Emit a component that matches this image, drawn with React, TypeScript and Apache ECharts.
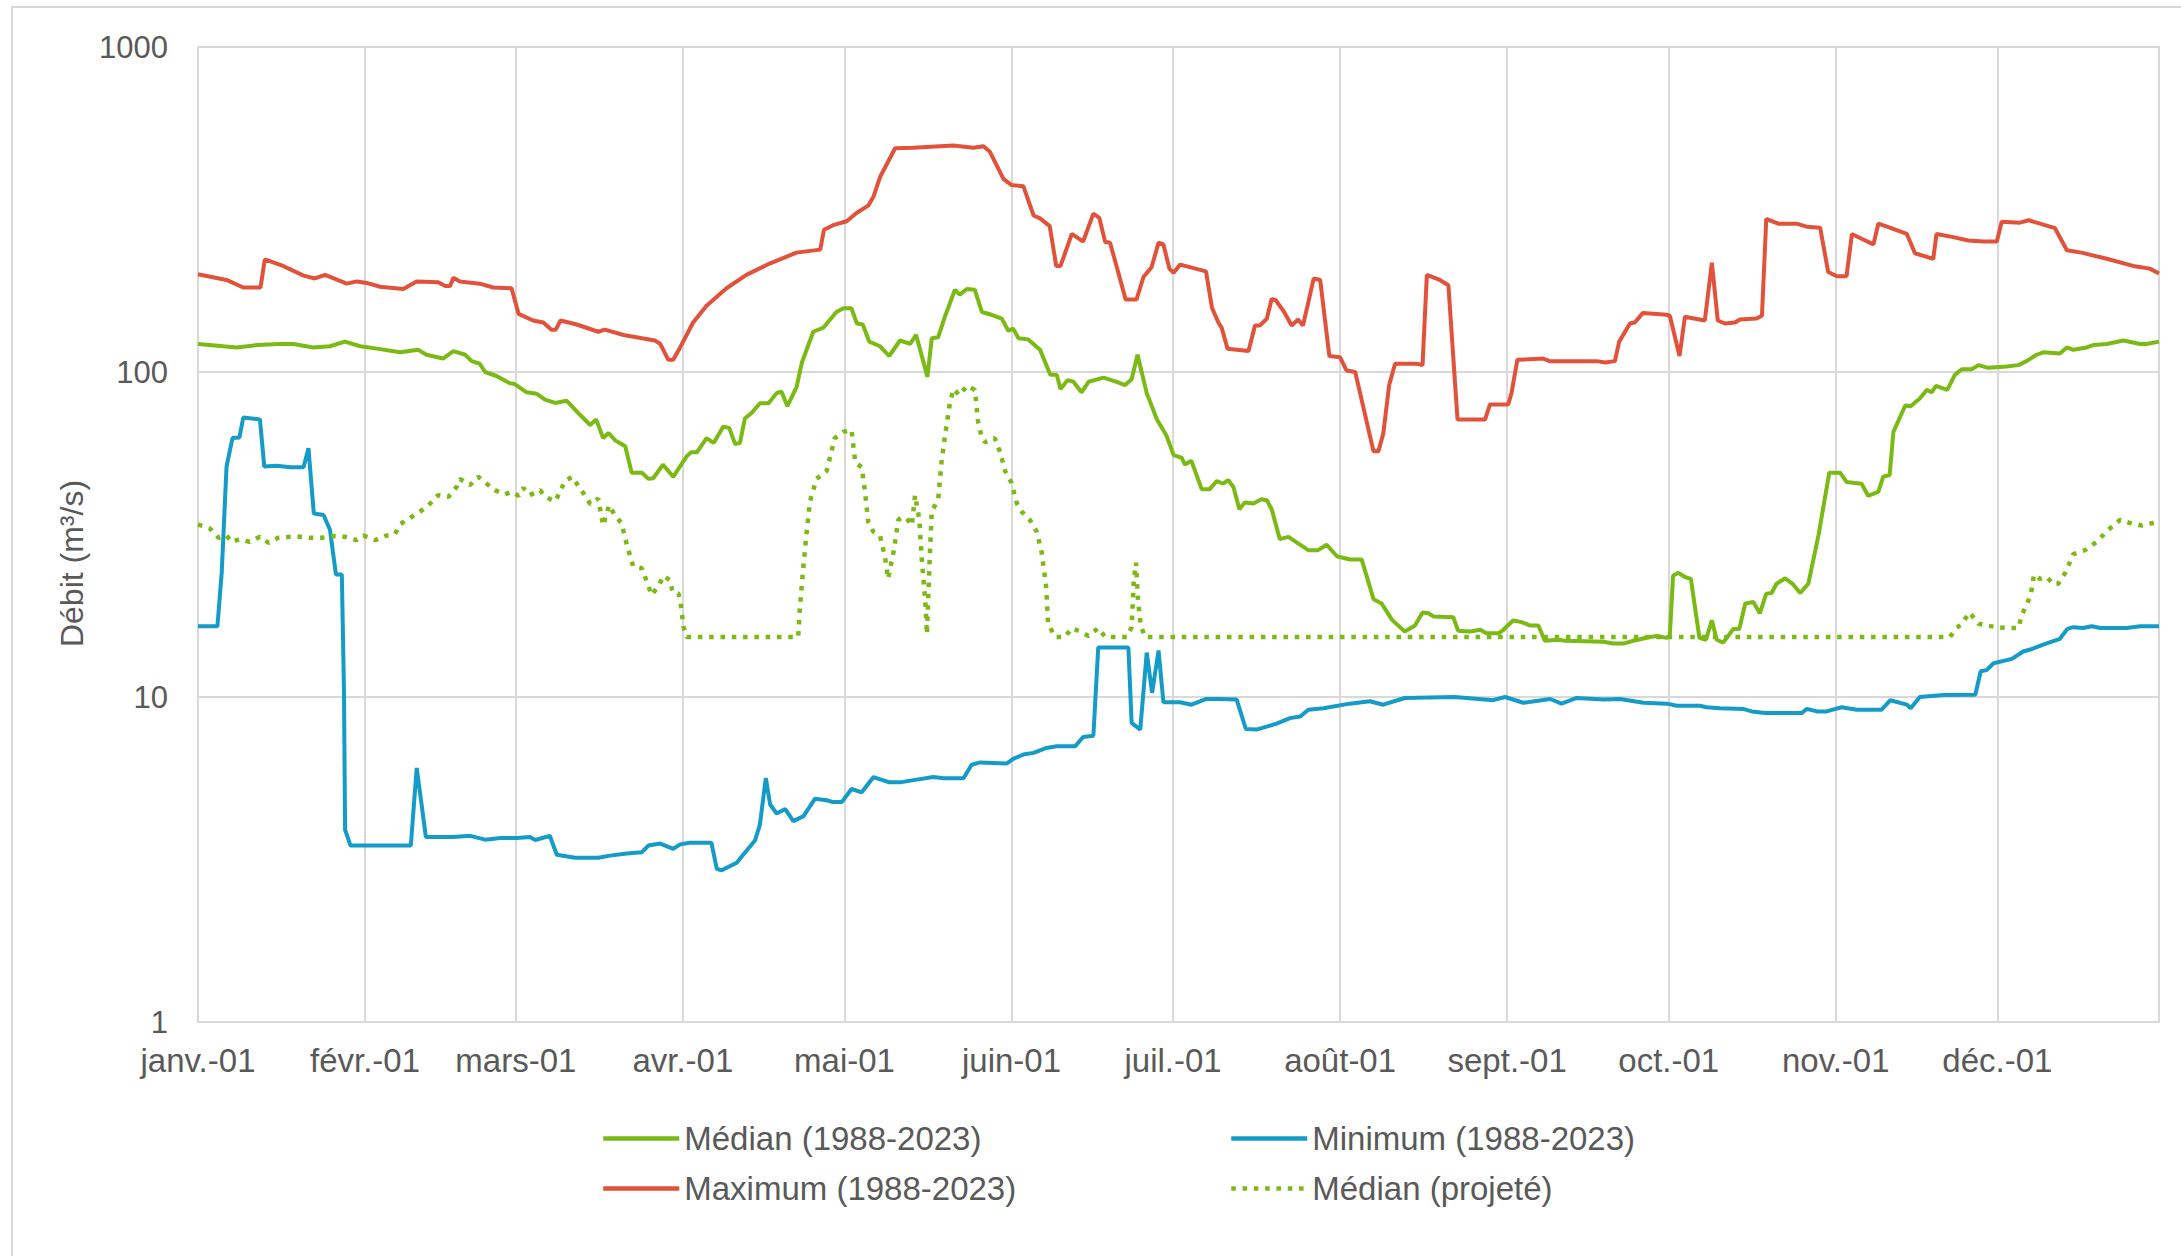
import React, { useEffect, useRef } from "react";
import * as echarts from "echarts";

// ---- Axis definitions ----
const monthLabels = ["janv.-01", "févr.-01", "mars-01", "avr.-01", "mai-01", "juin-01", "juil.-01", "août-01", "sept.-01", "oct.-01", "nov.-01", "déc.-01"];
const monthStartDays = [0, 31, 59, 90, 120, 151, 181, 212, 243, 273, 304, 334];
const dayCount = 365;
const yTickValues = [1, 10, 100, 1000];

// ---- Series: [day of year, débit m³/s] ----
const medianHistorical: [number, number][] = [
  [0,122],[4.7,120],[7.2,119],[10.9,121],[15.2,122],[17.7,122],[21.4,119],[24.5,120],[27.3,124],[30.1,120],[33.2,118],[37.5,115],[40.9,117],[42.4,113],[45.5,110],[47.4,116],[49.6,113],[50.8,108],[52.3,106],[53.3,100],[55.4,97.2],[57.9,92.3],[58.8,91.8],[61,86.6],[62.9,85.7],[64.4,82.2],[66.3,80.3],[68.4,81.6],[70.3,75.6],[72.8,68.7],[73.9,71.4],[74.5,67.3],[75.2,62.6],[76.2,64.9],[77.4,61.7],[79.3,59.1],[80.5,49],[82.4,49],[83.6,46.9],[84.5,47.1],[86.3,51.9],[88.2,47.6],[90.7,55],[91.5,56.6],[92.6,56.6],[94.4,62.6],[95.7,60.5],[97.5,67.9],[98.6,67.3],[99.7,60],[100.6,60.5],[101.5,71.9],[102.8,74.9],[104.3,80.1],[105.9,80.1],[107.4,86.1],[108.3,87.1],[109.4,78.5],[111.1,89.9],[112.1,107],[114.2,133],[116.1,137],[118.5,153],[119.8,157],[121.3,157],[122.3,141],[123.4,140],[124.6,124],[126.6,120],[128.3,112],[130.3,125],[132.2,122],[133.3,130],[135.4,96.6],[136.2,127],[137.4,128],[138.7,149],[140.5,179],[141.4,173],[142.7,180],[144.2,179],[145.5,153],[147.3,150],[149.2,146],[150.4,134],[151.3,136],[152.3,127],[154.1,126],[156.3,117],[158.2,98],[159.4,98],[160.1,88.6],[161.4,94.4],[162.5,93.3],[164,86.6],[165.3,93.3],[168.1,96.1],[170.5,93.3],[172.1,91.2],[173.3,95],[174.4,113],[176.1,86.1],[178,71.4],[179.8,63.5],[181.1,55.5],[182.6,54.4],[183.2,51.9],[184.4,53.3],[186.3,43.6],[187.8,43.6],[189.1,46.2],[190.3,45.3],[191.2,46.5],[192.2,44.3],[193.3,37.8],[194.3,39.7],[195.9,39.4],[197.4,40.6],[198.4,40.3],[199.3,37.8],[200.8,30.6],[202.4,31.1],[204.2,29.7],[206.1,28.3],[207.9,28.3],[209.5,29.4],[211.4,27.1],[213.8,26.5],[216,26.5],[218.2,20],[219.7,19.4],[221.6,17.3],[224,15.9],[225.9,16.6],[227.3,18.2],[228.4,18.1],[229.3,17.7],[233,17.6],[233.9,16],[236.1,15.9],[238,16.1],[239.1,15.7],[241.4,15.7],[242.3,16.1],[244.1,17.2],[245.7,17],[247.2,16.6],[248.8,16.6],[250,14.9],[252.5,15],[253.7,14.9],[260.9,14.8],[262.7,14.6],[264.6,14.6],[266.4,14.9],[269.5,15.3],[270.8,15.4],[272.6,15.2],[273.2,15.5],[273.8,23.6],[274.8,24.1],[276,23.4],[277.1,23.1],[278.7,15.2],[279.9,15],[281,17.2],[281.9,15],[283.1,14.7],[285,16.2],[286.1,16.2],[287.2,19.4],[288.7,19.6],[289.9,18.1],[291.1,20.8],[292.1,20.9],[293,22.3],[294.6,23.2],[296.1,22.2],[297.4,20.9],[298.9,22.3],[300.8,31.5],[302.8,49],[304.8,49],[306,45.9],[308.8,45.3],[310,41.6],[311.9,42.8],[312.8,47.6],[314,48.2],[314.7,65.4],[316.9,78.9],[317.9,78.5],[319.6,82.9],[320.9,88.1],[321.8,86.6],[322.6,90.7],[324.7,88.1],[326.1,98],[327.4,102],[329.2,102],[330.5,105],[332.3,103],[335.7,104],[337.9,105],[339.4,108],[341.3,113],[342.5,115],[345.6,114],[346.9,119],[348.1,117],[350.6,119],[351.8,121],[354.3,122],[357.4,125],[360.5,122],[361.7,122],[364,124]
];

const minimumHistorical: [number, number][] = [
  [0,16.5],[3.6,16.5],[4.4,24.1],[5.3,51.2],[6.4,62.6],[7.7,62.9],[8.4,72.4],[11.5,71.4],[12.3,51.2],[14.6,51.5],[17.1,50.9],[19.6,50.9],[20.5,58.3],[21.5,36.7],[23.3,36.3],[24.5,32.7],[25.6,23.8],[26.7,23.8],[27.1,10.3],[27.3,3.91],[28.3,3.49],[39.5,3.49],[40.6,6.05],[42.3,3.71],[47.4,3.71],[50.5,3.74],[53.3,3.64],[56.1,3.68],[59.2,3.68],[61.6,3.71],[62.6,3.63],[65.3,3.74],[66.6,3.27],[70,3.2],[74.3,3.2],[76.5,3.25],[79.6,3.3],[82.4,3.33],[83.6,3.49],[85.8,3.54],[88.2,3.41],[89.5,3.52],[91.3,3.56],[95.3,3.56],[96.3,2.96],[97.2,2.93],[100,3.09],[101.2,3.27],[103.4,3.62],[104.3,4.05],[105.4,5.63],[106.2,4.67],[107.4,4.38],[109,4.52],[110.5,4.15],[112.4,4.3],[114.5,4.86],[116.7,4.81],[117.9,4.75],[119.5,4.75],[121.3,5.21],[123.2,5.09],[125.4,5.67],[128.2,5.47],[130.6,5.47],[132.8,5.55],[136.5,5.67],[138.4,5.62],[142.1,5.62],[143.6,6.19],[145.2,6.29],[150.1,6.24],[151.3,6.45],[153.2,6.65],[155.1,6.73],[157.5,6.97],[159.4,7.05],[162.8,7.05],[164.3,7.53],[166.2,7.6],[167.1,14.2],[171.8,14.2],[172.7,14.2],[173.3,8.32],[174.9,7.94],[176.1,13.7],[177.1,10.3],[178.3,13.9],[179.2,9.63],[182.3,9.63],[184.4,9.47],[187.2,9.86],[189.7,9.86],[192.8,9.82],[194.5,7.97],[196.5,7.94],[200.2,8.28],[202.7,8.61],[204.6,8.71],[206.1,9.14],[208.9,9.24],[213.8,9.54],[217.5,9.7],[220,9.47],[224,9.93],[233.3,10],[240.4,9.78],[242.6,10],[246,9.6],[251,9.86],[253.1,9.54],[255.9,9.93],[260.9,9.82],[264,9.86],[268.3,9.6],[272.6,9.54],[274.5,9.4],[278.8,9.4],[280,9.3],[282.5,9.23],[286.8,9.19],[288.4,9.03],[290.9,8.93],[297.7,8.93],[298.6,9.19],[300.5,9.03],[302.3,9.03],[305.1,9.3],[307.9,9.14],[312.5,9.14],[314.1,9.77],[317.2,9.47],[317.9,9.24],[319.6,10],[324,10.14],[329.9,10.16],[330.9,12],[332,12.1],[333.3,12.7],[336.7,13.1],[338.8,13.8],[340.1,14],[342.5,14.5],[345.6,15.1],[347,16.2],[348.1,16.4],[349.9,16.3],[351.5,16.5],[353.1,16.3],[358,16.3],[360.5,16.5],[364,16.5]
];

const maximumHistorical: [number, number][] = [
  [0,200],[5.3,192],[8.4,182],[11.6,182],[12.4,222],[15.8,212],[19.6,198],[21.7,194],[23.6,199],[27.6,187],[29.5,190],[31.3,188],[33.8,183],[38.1,180],[40.6,190],[44.6,189],[45.9,184],[46.8,184],[47.4,195],[48.6,190],[52.3,187],[54.8,182],[58.2,181],[59.5,151],[62.2,144],[64.1,142],[65.6,135],[66.4,135],[67.3,144],[70.3,140],[74.3,133],[75.5,135],[79,130],[84.8,125],[85.8,122],[87.3,109],[88.2,109],[89.5,119],[91.9,142],[94.4,160],[98.1,181],[101.8,199],[106.2,216],[111.1,233],[115.5,238],[116.2,274],[117.9,283],[120.4,291],[122.3,309],[124.4,325],[125.4,347],[126.6,398],[129.4,488],[132.8,490],[140.2,498],[143.9,490],[145.8,495],[147,476],[149.5,393],[151,376],[153.2,373],[155.1,303],[156.3,297],[158.1,281],[159.3,212],[160.1,212],[162.2,266],[164.3,252],[166.2,307],[167.3,298],[168.4,251],[169.3,250],[172.2,167],[174.2,167],[175.5,196],[177,210],[178.3,250],[179.2,247],[180.3,208],[181.1,202],[182.3,214],[187.1,204],[188.2,158],[189.4,142],[190,137],[191.1,118],[195,116],[196.2,139],[197.1,139],[198.4,146],[199.3,168],[200.1,166],[201.5,154],[203,139],[204.2,145],[205.1,139],[206.1,164],[207.1,194],[208.3,192],[210,112],[212,111],[213.2,101],[214.8,100],[218.2,57],[219.1,57],[220,64.5],[221.1,91],[222.2,106],[226.2,106],[227.3,105],[228.1,199],[230.5,192],[232.1,185],[233.3,94],[233.8,71.4],[238.9,71.4],[239.8,79.4],[243.2,79.4],[243.8,86],[244.9,109],[249.7,110],[250.9,108],[259.6,108],[261.2,107],[263,108],[263.8,124],[265.8,141],[266.7,142],[268.2,152],[272.6,150],[273.2,149],[275,112],[276,148],[279.7,144],[281,217],[282.1,144],[283.4,141],[285.3,142],[286.2,145],[289.3,146],[290.3,149],[291.1,296],[293.3,286],[296.7,286],[298.6,280],[301.1,278],[302.6,203],[304.2,197],[306,197],[307,266],[308.8,257],[311,247],[311.9,286],[313.5,280],[317.2,266],[318.7,232],[322.1,223],[322.7,266],[325.8,260],[328.6,254],[331.4,252],[333.9,252],[334.8,290],[338.2,288],[339.8,293],[344.7,277],[346.9,237],[349.6,233],[354.3,223],[359.2,212],[362.3,208],[364,201]
];

const medianProjected: [number, number][] = [
  [0,34],[2.2,33],[3.8,30.9],[5.3,31.4],[6.2,30],[7.8,30.6],[9.6,30],[11.5,31.1],[13.1,29.8],[14.9,30.9],[17.1,31.1],[18.9,31.1],[20.8,30.9],[23,30.9],[25.1,31.3],[27.3,31.1],[29.4,30.4],[30.7,31.4],[32.9,30.4],[34.7,31.3],[36.6,31.8],[37.5,34],[39.4,35.6],[41.2,37.2],[42.8,38.9],[44.6,41.8],[46.5,41.3],[48,44.3],[48.6,46.9],[50.5,44.9],[52,47.6],[53.6,45.3],[55.1,43.3],[57,42],[58.2,42.8],[59.5,41.6],[60.4,44],[61.6,41.8],[63.5,43.3],[64.4,41.3],[66.3,40],[67.2,42.8],[68.1,46.2],[69.5,47.6],[70.6,44.6],[71.8,41.8],[72.8,39.2],[74.3,40.8],[75.2,33.7],[76.3,38.9],[77.4,36.2],[78.6,34.3],[79.6,29.4],[80.8,25.2],[82.4,24.9],[84.2,20.6],[85.5,22],[86.4,23.6],[87.6,22.9],[88.1,21],[89.2,20.8],[89.6,19.4],[90.1,16.5],[90.7,15.3],[111.4,15.3],[111.7,18.6],[112.2,23.4],[112.9,31.3],[113.6,40],[114.8,46.9],[116.7,49.7],[118.2,62.6],[119.8,65.4],[121.3,66.4],[122,52.7],[123.2,50.9],[123.8,43],[124.4,34.6],[125.4,32.2],[126.6,31.3],[127.5,27.1],[128.1,23.1],[129.1,27.9],[130,35.1],[130.6,35.6],[131.5,35.6],[132.5,33.7],[133.1,41.8],[133.9,35.1],[134.3,27.1],[135,19.7],[135.3,15.6],[135.8,26.3],[136.2,37.2],[137.4,40.6],[138,52.7],[138.7,64.5],[139.5,78.9],[140.2,88.6],[141.4,84.8],[142.7,90.7],[144.2,88.1],[144.8,70.3],[145.5,62.6],[146.1,60.8],[147.9,62.6],[148.9,56.6],[149.8,49.7],[151,45.6],[152,39.4],[152.9,37.2],[154.4,35.1],[155.7,32.2],[156.6,27.9],[157.4,22.1],[157.8,16.8],[159.1,15.3],[160.9,15.3],[162.2,16.3],[163.7,15.9],[165.3,15.4],[167.1,16.3],[168.4,15.3],[172.4,15.3],[173.3,16.4],[173.7,22.8],[174.1,25.9],[174.5,19.7],[175,16.6],[175.8,15.3],[325.2,15.3],[326.4,16.3],[327.4,16.8],[328.8,18.2],[330.5,16.8],[332,16.6],[333.9,16.4],[336,16.3],[337.9,16.3],[338.5,17.8],[339.4,19.2],[340.2,20.6],[340.8,23.8],[341.9,23.1],[343.2,23.4],[344.4,22.2],[345.3,22.3],[346.6,24.1],[348.1,27.5],[350.3,28.3],[352.4,30],[354.6,32.7],[356.8,35.1],[358.6,34.3],[360.8,33.7],[362.9,34.3],[364,34.6]
];

const seriesNames = ["Médian (1988-2023)", "Minimum (1988-2023)", "Maximum (1988-2023)", "Médian (projeté)"];

const GREEN = "#7BBA14";
const BLUE = "#149BC8";
const RED = "#E2523A";
const GRID = "#d9d9d9";
const TEXT = "#595959";
const FONT = "'Liberation Sans', Arial, sans-serif";

export default function App() {
  const ref = useRef<HTMLDivElement>(null);

  useEffect(() => {
    if (!ref.current) return;
    const chart = echarts.init(ref.current, null, { renderer: "svg" });
    const dayCategories = Array.from({ length: dayCount }, (_, i) => String(i));
    const isMonthStart = (index: number) => monthStartDays.includes(index);

    const legendBase = {
      orient: "vertical",
      top: 1117,
      itemWidth: 76,
      itemHeight: 32,
      itemGap: 17,
      itemStyle: { opacity: 0 },
      lineStyle: { width: 4.5 },
      textStyle: { fontSize: 33, color: TEXT, fontFamily: FONT },
    };

    chart.setOption({
      animation: false,
      backgroundColor: "#ffffff",
      textStyle: { fontFamily: FONT },
      graphic: [
        {
          type: "rect",
          silent: true,
          z: -10,
          shape: { x: 12, y: 7, width: 2200, height: 1300 },
          style: { fill: "none", stroke: GRID, lineWidth: 2 },
        },
      ],
      grid: {
        left: 198,
        top: 47,
        right: 22,
        bottom: 234,
        show: true,
        borderColor: GRID,
        borderWidth: 2,
        backgroundColor: "transparent",
        outerBoundsMode: "none",
      },
      legend: [
        { ...legendBase, left: 596, data: [seriesNames[0], seriesNames[2]] },
        { ...legendBase, left: 1224, data: [seriesNames[1], seriesNames[3]] },
      ],
      xAxis: [
        {
          type: "category",
          data: dayCategories,
          boundaryGap: false,
          axisLine: { show: false },
          axisTick: { show: false },
          axisLabel: {
            interval: (index: number) => isMonthStart(index),
            formatter: (value: string) => {
              const k = monthStartDays.indexOf(Number(value));
              return k >= 0 ? monthLabels[k] : "";
            },
            fontSize: 33,
            color: TEXT,
            fontFamily: FONT,
            margin: 22,
          },
          splitLine: {
            show: true,
            interval: (index: number) => isMonthStart(index),
            lineStyle: { color: GRID, width: 2 },
          },
        },
        {
          type: "value",
          min: 0,
          max: dayCount - 1,
          show: false,
          splitLine: { show: false },
        },
      ],
      yAxis: {
        type: "log",
        logBase: 10,
        min: yTickValues[0],
        max: yTickValues[yTickValues.length - 1],
        axisLine: { show: false },
        axisTick: { show: false },
        axisLabel: {
          fontSize: 31,
          color: TEXT,
          fontFamily: FONT,
          margin: 30,
          formatter: (v: number) => String(Math.round(v)),
        },
        splitLine: { show: true, lineStyle: { color: GRID, width: 2 } },
        name: "Débit (m³/s)",
        nameLocation: "middle",
        nameGap: 108,
        nameTextStyle: { fontSize: 32, color: TEXT, fontFamily: FONT, padding: [0, 58, 0, 0] },
      },
      series: [
        {
          name: seriesNames[0],
          type: "line",
          xAxisIndex: 1,
          data: medianHistorical,
          symbol: "none",
          showSymbol: false,
          lineStyle: { color: GREEN, width: 4 },
          itemStyle: { color: GREEN },
        },
        {
          name: seriesNames[1],
          type: "line",
          xAxisIndex: 1,
          data: minimumHistorical,
          symbol: "none",
          showSymbol: false,
          lineStyle: { color: BLUE, width: 4 },
          itemStyle: { color: BLUE },
        },
        {
          name: seriesNames[2],
          type: "line",
          xAxisIndex: 1,
          data: maximumHistorical,
          symbol: "none",
          showSymbol: false,
          lineStyle: { color: RED, width: 4 },
          itemStyle: { color: RED },
        },
        {
          name: seriesNames[3],
          type: "line",
          xAxisIndex: 1,
          data: medianProjected,
          symbol: "none",
          showSymbol: false,
          lineStyle: { color: GREEN, width: 4.5, type: [4.5, 6.8] },
          itemStyle: { color: GREEN },
        },
      ],
    });

    return () => chart.dispose();
  }, []);

  return (
    <div
      ref={ref}
      style={{ position: "absolute", left: 0, top: 0, width: 2181, height: 1256, background: "#ffffff" }}
    />
  );
}
